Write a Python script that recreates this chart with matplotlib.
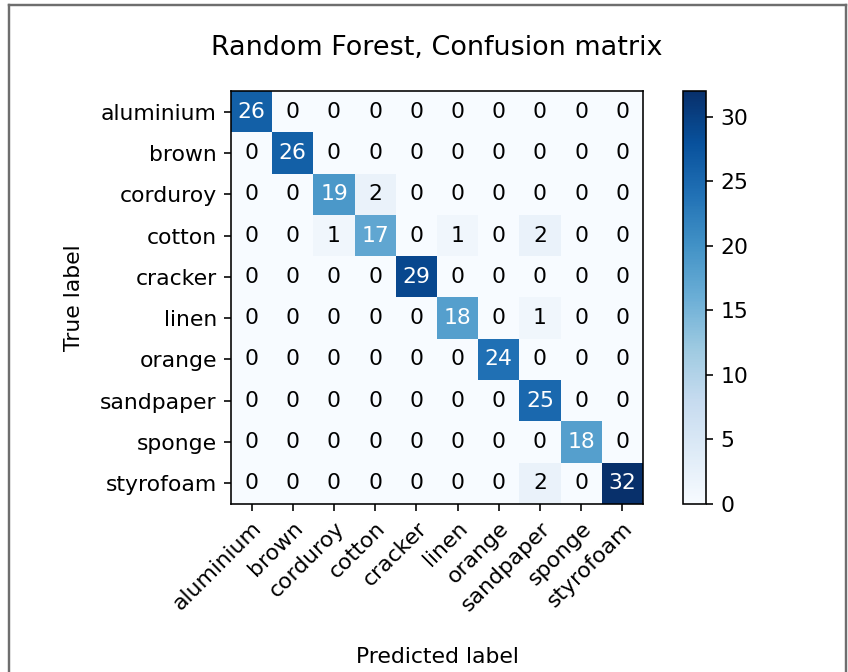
import numpy as np
import matplotlib
matplotlib.use("Agg")
import matplotlib.pyplot as plt
from matplotlib.lines import Line2D

classes = ["aluminium", "brown", "corduroy", "cotton", "cracker",
           "linen", "orange", "sandpaper", "sponge", "styrofoam"]

cm = np.array([
    [26, 0, 0, 0, 0, 0, 0, 0, 0, 0],
    [0, 26, 0, 0, 0, 0, 0, 0, 0, 0],
    [0, 0, 19, 2, 0, 0, 0, 0, 0, 0],
    [0, 0, 1, 17, 0, 1, 0, 2, 0, 0],
    [0, 0, 0, 0, 29, 0, 0, 0, 0, 0],
    [0, 0, 0, 0, 0, 18, 0, 1, 0, 0],
    [0, 0, 0, 0, 0, 0, 24, 0, 0, 0],
    [0, 0, 0, 0, 0, 0, 0, 25, 0, 0],
    [0, 0, 0, 0, 0, 0, 0, 0, 18, 0],
    [0, 0, 0, 0, 0, 0, 0, 2, 0, 32],
])

plt.rcParams["font.size"] = 10.9

DPI = 145
fig = plt.figure(figsize=(848 / DPI, 672 / DPI), dpi=DPI)

ax = fig.add_axes([231 / 848, 1 - 504 / 672, 412 / 848, 413 / 672])
cax = fig.add_axes([683 / 848, 1 - 504 / 672, 23 / 848, 413 / 672])

im = ax.imshow(cm, interpolation="nearest", cmap=plt.cm.Blues, aspect="auto")
fig.colorbar(im, cax=cax)

ax.set_xticks(np.arange(len(classes)))
ax.set_yticks(np.arange(len(classes)))
ax.set_xticklabels(classes, rotation=45, ha="right", rotation_mode="anchor")
ax.set_yticklabels(classes)
ax.set_title("Random Forest, Confusion matrix", fontsize=13.4, pad=18)
ax.set_ylabel("True label", labelpad=8)
ax.set_xlabel("Predicted label", labelpad=16)

thresh = cm.max() / 2.
for i in range(cm.shape[0]):
    for j in range(cm.shape[1]):
        ax.text(j, i, format(cm[i, j], "d"), ha="center", va="center",
                color="white" if cm[i, j] > thresh else "black")

# page frame around the figure (left, top, right)
frame_col = "#6e6e6e"
fig.add_artist(Line2D([8.5 / 848, 8.5 / 848], [0, 1 - 5 / 672],
                      transform=fig.transFigure, color=frame_col, lw=1.2))
fig.add_artist(Line2D([8.5 / 848, 845.5 / 848], [1 - 5 / 672, 1 - 5 / 672],
                      transform=fig.transFigure, color=frame_col, lw=1.2))
fig.add_artist(Line2D([845.5 / 848, 845.5 / 848], [0, 1 - 5 / 672],
                      transform=fig.transFigure, color=frame_col, lw=1.2))

fig.savefig("out.png", dpi=DPI)
